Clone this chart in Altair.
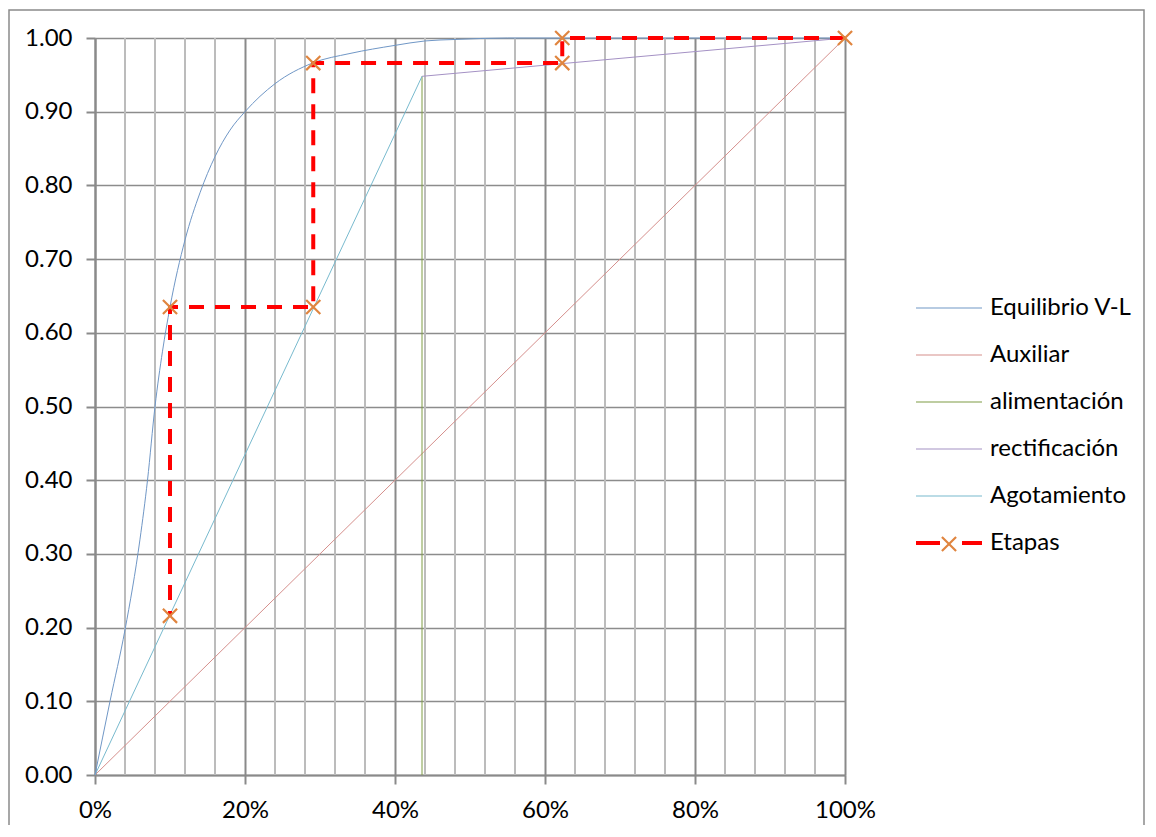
import altair as alt
import pandas as pd

# ---------------- data ----------------
series_names = ["Equilibrio V-L", "Auxiliar", "alimentación", "rectificación", "Agotamiento", "Etapas"]
series_colors = ["#7097c6", "#d58f8c", "#7f9c45", "#a491c4", "#78bace", "#ff0000"]

eq_x = [0.0, 0.02, 0.04, 0.06, 0.07, 0.08, 0.09, 0.10, 0.12, 0.14, 0.16, 0.18, 0.20,
        0.24, 0.29, 0.34, 0.40, 0.44, 0.48, 0.55, 0.70, 0.85, 1.0]
eq_y = [0.0, 0.10, 0.197, 0.32, 0.40, 0.50, 0.575, 0.635, 0.726, 0.79, 0.839, 0.875, 0.90,
        0.938, 0.966, 0.979, 0.99, 0.996, 0.998, 1.0, 1.0, 1.0, 1.0]

aux_x = [0.0, 1.0]
aux_y = [0.0, 1.0]

feed_x = [0.436, 0.436]
feed_y = [0.0, 0.948]

rect_x = [0.436, 1.0]
rect_y = [0.948, 1.0]

strip_x = [0.0, 0.436]
strip_y = [0.0, 0.948]

stage_x = [1.0, 0.623, 0.623, 0.291, 0.291, 0.100, 0.100]
stage_y = [1.0, 1.0, 0.966, 0.966, 0.635, 0.635, 0.216]

y_ticks = [0.0, 0.1, 0.2, 0.3, 0.4, 0.5, 0.6, 0.7, 0.8, 0.9, 1.0]
x_major = [0.0, 0.2, 0.4, 0.6, 0.8, 1.0]
x_minor = [0.04, 0.08, 0.12, 0.16, 0.24, 0.28, 0.32, 0.36, 0.44, 0.48, 0.52, 0.56,
           0.64, 0.68, 0.72, 0.76, 0.84, 0.88, 0.92, 0.96]

# ---------------- tables ----------------
def rows(name, xs, ys):
    return [{"serie": name, "x": a, "y": b, "ord": i} for i, (a, b) in enumerate(zip(xs, ys))]

eq_df = pd.DataFrame(rows(series_names[0], eq_x, eq_y))
lines_df = pd.DataFrame(
    rows(series_names[1], aux_x, aux_y)
    + rows(series_names[2], feed_x, feed_y)
    + rows(series_names[3], rect_x, rect_y)
    + rows(series_names[4], strip_x, strip_y)
)
stage_df = pd.DataFrame(rows(series_names[5], stage_x, stage_y))
minor_df = pd.DataFrame({"x": x_minor})
one_df = pd.DataFrame({"k": [0]})

FONT = "Lato"
STAGE_DASH = [15, 11]
X_SHAPE = "M-1,-1L1,1M-1,1L1,-1"
MARKER_COLOR = "#e0853f"

x_enc = alt.X("x:Q", scale=alt.Scale(domain=[0, 1], nice=False, zero=False),
              axis=alt.Axis(values=x_major, format=".0%", title=None, grid=True,
                            gridColor="#8a8a8a", gridWidth=2, tickSize=9, tickColor="#8a8a8a",
                            tickWidth=2, domainColor="#8a8a8a", domainWidth=2,
                            labelFont=FONT, labelFontSize=24, labelColor="#000000",
                            labelPadding=14, labelFlush=False))
y_enc = alt.Y("y:Q", scale=alt.Scale(domain=[0, 1], nice=False, zero=False),
              axis=alt.Axis(values=y_ticks, format=".2f", title=None, grid=True,
                            gridColor="#8c8c8c", gridWidth=1.5, tickSize=9, tickColor="#8a8a8a",
                            tickWidth=2, domainColor="#8a8a8a", domainWidth=2,
                            labelFont=FONT, labelFontSize=24, labelColor="#000000",
                            labelPadding=14))

legend = alt.Legend(
    title=None, orient="none", legendX=842, legendY=258,
    labelFont=FONT, labelFontSize=24, labelColor="#000000",
    symbolType="stroke", symbolSize=4356, labelOffset=29, rowPadding=23, padding=0,
    symbolDash=alt.ExprRef("datum.label == 'Etapas' ? [24, 22] : [1, 0]"),
    symbolStrokeWidth=alt.ExprRef("datum.label == 'Etapas' ? 4 : 1.2"),
)
color_enc = alt.Color("serie:N", scale=alt.Scale(domain=series_names, range=series_colors),
                      legend=legend)

minor = alt.Chart(minor_df).mark_rule(color="#bcbcbc", strokeWidth=2).encode(x=x_enc)

others = alt.Chart(lines_df).mark_line(strokeWidth=1).encode(
    x=x_enc, y=y_enc, color=color_enc, detail="serie:N", order="ord:Q")

eq = alt.Chart(eq_df).mark_line(interpolate="monotone", strokeWidth=1).encode(
    x=x_enc, y=y_enc, color=color_enc, order="ord:Q")

stages = alt.Chart(stage_df).mark_line(strokeWidth=4, strokeDash=STAGE_DASH, strokeCap="butt").encode(
    x=x_enc, y=y_enc, color=color_enc, order="ord:Q")

marks = alt.Chart(stage_df).mark_point(
    shape=X_SHAPE, filled=False, stroke=MARKER_COLOR, strokeWidth=2.2, size=200,
    opacity=1).encode(x=x_enc, y=y_enc)

# marker glyph on the "Etapas" legend entry
legend_marker = alt.Chart(one_df).mark_point(
    shape=X_SHAPE, filled=False, stroke=MARKER_COLOR, strokeWidth=2.2, size=200,
    opacity=1).encode(x=alt.value(854), y=alt.value(506))

frame = alt.Chart(one_df).mark_rect(fill=None, stroke="#8a8a8a", strokeWidth=1.5).encode(
    x=alt.value(-86), x2=alt.value(1049), y=alt.value(-28), y2=alt.value(800))

chart = alt.layer(minor, others, eq, stages, marks, legend_marker, frame).properties(
    width=750, height=737,
    autosize=alt.AutoSizeParams(type="none"),
    padding={"left": 87, "top": 30, "right": 300, "bottom": 50},
).configure_view(stroke=None).configure(background="white")

chart.save("out.html", embed_options={"renderer": "svg", "actions": False})
